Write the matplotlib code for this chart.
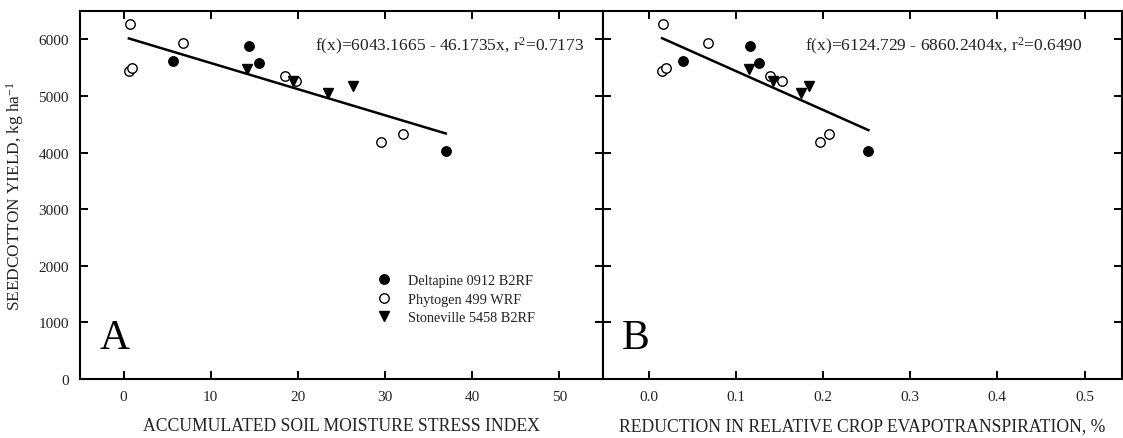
import matplotlib
matplotlib.use("Agg")
import matplotlib.pyplot as plt
import numpy as np

plt.rcParams['font.family'] = ['Liberation Serif', 'DejaVu Serif']
plt.rcParams['mathtext.fontset'] = 'custom'
plt.rcParams['mathtext.rm'] = 'Liberation Serif'
plt.rcParams['mathtext.it'] = 'Liberation Serif:italic'

# ---- data (panel A: accumulated soil moisture stress index) ----
deltapine_a_x = [5.65, 14.43, 15.58, 36.96]
deltapine_y = [5617, 5882, 5588, 4023]
phytogen_a_x = [0.69, 0.61, 1.0, 6.8, 18.48, 19.8, 29.5, 32.0]
phytogen_y = [6265, 5440, 5500, 5930, 5347, 5265, 4188, 4330]
stoneville_a_x = [14.17, 19.4, 23.5, 26.27]
stoneville_y = [5470, 5265, 5050, 5170]

# ---- data (panel B: reduction in relative crop ET) ----
deltapine_b_x = [0.0397, 0.1163, 0.1266, 0.252]
phytogen_b_x = [0.0168, 0.0153, 0.0199, 0.0677, 0.139, 0.153, 0.196, 0.207]
stoneville_b_x = [0.1155, 0.142, 0.175, 0.184]

# regression coefficients
fit_a = (6043.1665, -46.1735)
fit_b = (6124.729, -6860.2404)
eq_a = "f(x)=6043.1665 - 46.1735x, r$^{\\mathregular{2}}$=0.7173"
eq_b = "f(x)=6124.729 - 6860.2404x, r$^{\\mathregular{2}}$=0.6490"

labels = ["Deltapine 0912 B2RF", "Phytogen 499 WRF", "Stoneville 5458 B2RF"]
yticks = [0, 1000, 2000, 3000, 4000, 5000, 6000]
xticks_a = [0, 10, 20, 30, 40, 50]
xticks_b = [0.0, 0.1, 0.2, 0.3, 0.4, 0.5]

TXT = '#222222'
W, H = 1123, 439
fig = plt.figure(figsize=(W / 100, H / 100), dpi=100)

def px(l, r, t, b):
    return [l / W, 1 - b / H, (r - l) / W, (b - t) / H]

axA = fig.add_axes(px(80, 603, 12, 380))
axB = fig.add_axes(px(603, 1122, 12, 380))

def style(ax, xt, xlim, fmt):
    ax.set_ylim(0, 6500)
    ax.set_xlim(*xlim)
    ax.set_yticks(yticks)
    ax.set_xticks(xt)
    ax.set_xticklabels([fmt(v) for v in xt])
    for s in ax.spines.values():
        s.set_linewidth(1.5)
    ax.tick_params(direction='in', length=6, width=1.4, top=True, right=True,
                   labelsize=11, labelcolor=TXT, pad=8)

ms = 6.8
for ax, dx, px_, sx, fit, eq, xt, xlim, fmt, eqx in [
    (axA, deltapine_a_x, phytogen_a_x, stoneville_a_x, fit_a, eq_a, xticks_a, (-5, 55), lambda v: f"{v:d}", 315),
    (axB, deltapine_b_x, phytogen_b_x, stoneville_b_x, fit_b, eq_b, xticks_b, (-0.0525, 0.543), lambda v: f"{v:.1f}", 805),
]:
    style(ax, xt, xlim, fmt)
    allx = np.array(dx + px_ + sx)
    xx = np.array([allx.min(), allx.max()])
    ax.plot(xx, fit[0] + fit[1] * xx, color='black', lw=1.8, zorder=2)
    ax.plot(dx, deltapine_y, 'o', color='black', ms=ms, label=labels[0], zorder=3)
    ax.plot(px_, phytogen_y, 'o', mfc='white', mec='black', mew=1.0, ms=ms, label=labels[1], zorder=3)
    ax.plot(sx, stoneville_y, 'v', color='black', ms=ms, label=labels[2], zorder=3)
    fig.text(eqx / W, 1 - 46 / H, eq, fontsize=12.5, color=TXT, ha='left', va='center')

axB.tick_params(labelleft=False)
axA.set_ylabel("SEEDCOTTON YIELD, kg ha$^{\\mathregular{-1}}$", fontsize=12.4, color=TXT, labelpad=9)
axA.set_xlabel("ACCUMULATED SOIL MOISTURE STRESS INDEX", fontsize=12.7, color=TXT, labelpad=10)
axB.set_xlabel("REDUCTION IN RELATIVE CROP EVAPOTRANSPIRATION, %", fontsize=12.7, color=TXT, labelpad=10)

axA.text(0.037, 0.085, "A", transform=axA.transAxes, fontsize=30, color='black')
axB.text(0.037, 0.085, "B", transform=axB.transAxes, fontsize=30, color='black')

leg = axA.legend(loc='upper left', bbox_to_anchor=(0.553, 0.30), frameon=False,
                 fontsize=10.3, labelspacing=0.38, handletextpad=1.1, handlelength=1.2,
                 borderaxespad=0)
for t in leg.get_texts():
    t.set_color(TXT)

fig.savefig("out.png", dpi=100)
